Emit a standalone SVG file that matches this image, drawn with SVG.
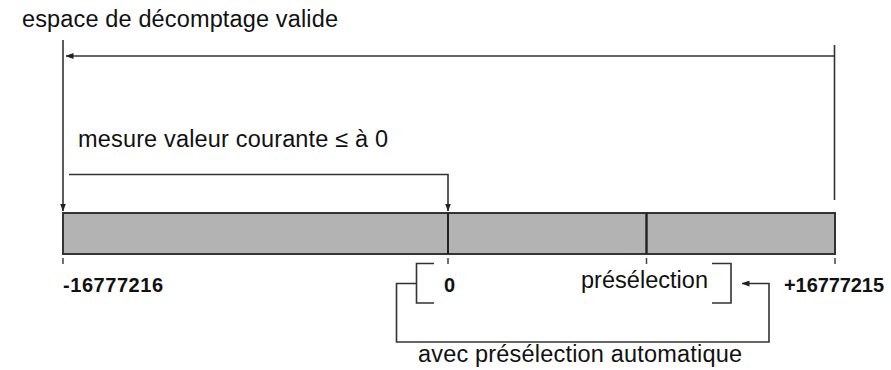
<svg xmlns="http://www.w3.org/2000/svg" width="891" height="370" viewBox="0 0 891 370">
<defs>
<marker id="arr" markerUnits="userSpaceOnUse" markerWidth="8" markerHeight="6" refX="7.5" refY="3" orient="auto">
<path d="M0,0 L8,3 L0,6 z" fill="#222"/>
</marker>
<style>
.t{font-family:"Liberation Sans",Arial,sans-serif;font-size:23.5px;fill:#111}
.b{font-family:"Liberation Sans",Arial,sans-serif;font-size:20px;font-weight:bold;fill:#111}
.ln{fill:none;stroke:#333;stroke-width:1.6}
.tick{stroke:#444;stroke-width:1.5}
.bar{fill:#b3b3b3;stroke:#333;stroke-width:2}
</style>
</defs>
<rect width="891" height="370" fill="#fff"/>
<g id="bar">
<rect class="bar" x="63" y="213" width="772" height="41"/>
<line x1="448" y1="213" x2="448" y2="254" stroke="#222" stroke-width="2"/>
<line x1="646.5" y1="213" x2="646.5" y2="254" stroke="#222" stroke-width="2.4"/>
<line class="tick" x1="63" y1="258" x2="63" y2="264"/>
<line class="tick" x1="448" y1="258" x2="448" y2="264"/>
<line class="tick" x1="646.5" y1="258" x2="646.5" y2="264"/>
<line class="tick" x1="835" y1="258" x2="835" y2="264"/>
</g>
<g id="labels">
<text class="t" x="22" y="27" textLength="316" lengthAdjust="spacing">espace de décomptage valide</text>
<text class="t" x="78" y="147" textLength="310" lengthAdjust="spacing">mesure valeur courante ≤ à 0</text>
<text class="b" x="63" y="292" textLength="100" lengthAdjust="spacing">-16777216</text>
<text class="b" x="444" y="292">0</text>
<text class="t" x="581" y="288" textLength="127" lengthAdjust="spacing">présélection</text>
<text class="b" x="784" y="292" textLength="100" lengthAdjust="spacing">+16777215</text>
<text class="t" x="418" y="362" textLength="324" lengthAdjust="spacing">avec présélection automatique</text>
</g>
<g id="brackets">
<path class="ln" d="M434,263.5 H416.5 V303 H434"/>
<path class="ln" d="M712,263.5 H731 V303 H712"/>
</g>
<g id="connectors">
<line class="ln" x1="63" y1="40" x2="63" y2="211" marker-end="url(#arr)"/>
<line class="ln" x1="834.5" y1="56" x2="66" y2="56" marker-end="url(#arr)"/>
<line class="ln" x1="834.5" y1="45" x2="834.5" y2="200"/>
<path class="ln" d="M69,174.5 H448 V211" marker-end="url(#arr)"/>
<path class="ln" d="M416.5,283.5 H396.5 V342 H769 V283.5 H742" marker-end="url(#arr)"/>
</g>
</svg>
